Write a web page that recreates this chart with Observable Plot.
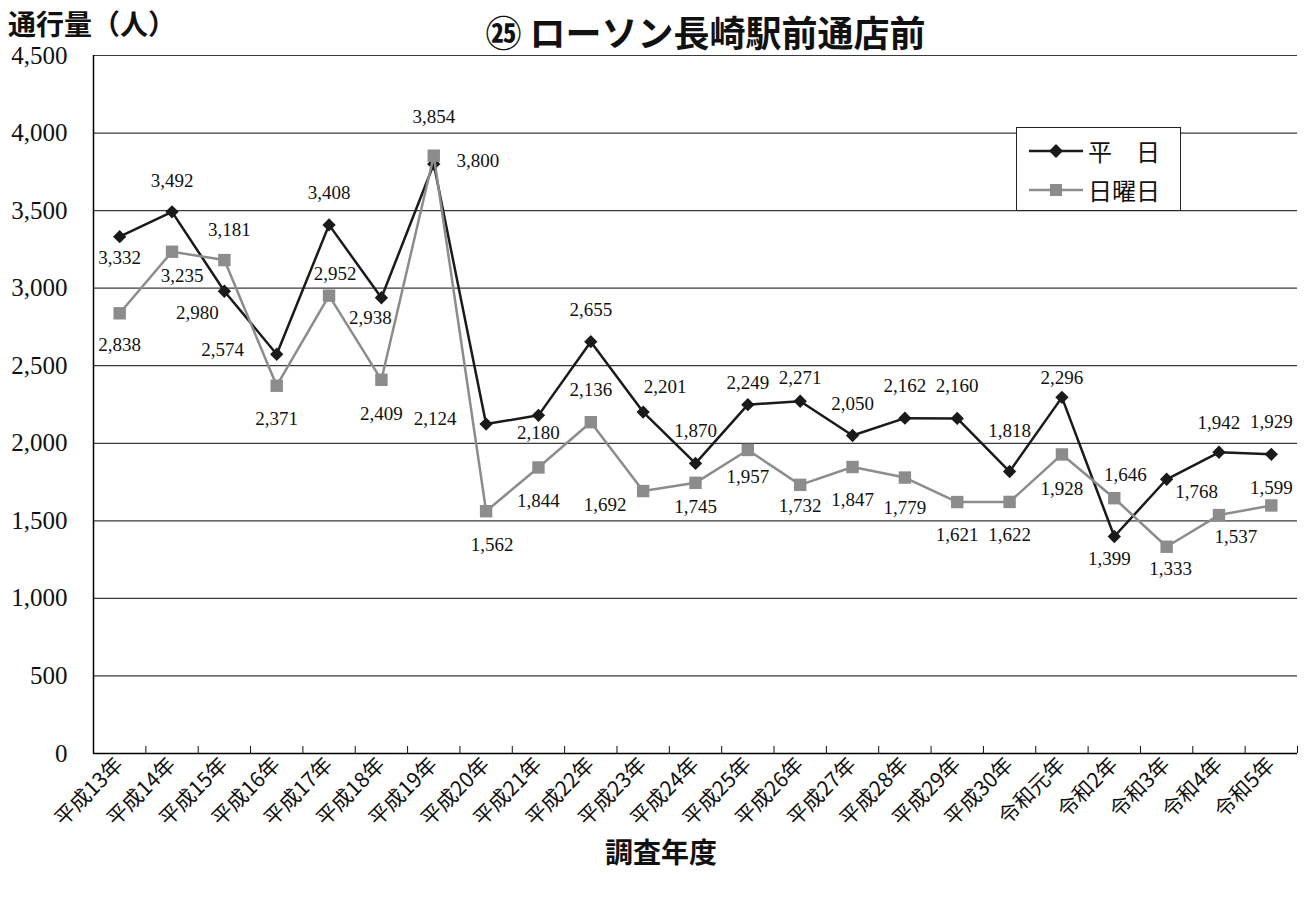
<!DOCTYPE html>
<html><head><meta charset="utf-8">
<script src="https://cdn.jsdelivr.net/npm/d3@7"></script>
<script src="https://cdn.jsdelivr.net/npm/@observablehq/plot@0.6"></script>
<style>
body{margin:0;background:#fff;}
#wrap{position:relative;width:1306px;height:897px;overflow:hidden;}
.t{position:absolute;white-space:nowrap;color:#111;font-family:"Noto Sans CJK JP",sans-serif;line-height:1.25;}
#legend{position:absolute;left:1016px;top:127px;width:163px;height:82px;border:1.5px solid #222;background:#fff;}
#legend .row{position:absolute;left:12px;display:flex;align-items:center;}
#legend span{font-family:"Noto Sans CJK JP",sans-serif;font-size:24px;color:#111;margin-left:5px;line-height:1.2;}
#wrap svg g[aria-label="y-axis tick label"] text{font-family:"Liberation Serif",serif !important;}
#wrap svg g[aria-label="x-axis tick label"] text{font-family:"Noto Sans CJK JP",sans-serif !important;}
</style></head><body><div id="wrap"></div>
<script>
const categories = ["平成13年","平成14年","平成15年","平成16年","平成17年","平成18年","平成19年","平成20年","平成21年","平成22年","平成23年","平成24年","平成25年","平成26年","平成27年","平成28年","平成29年","平成30年","令和元年","令和2年","令和3年","令和4年","令和5年"];
const weekday = [3332,3492,2980,2574,3408,2938,3800,2124,2180,2655,2201,1870,2249,2271,2050,2162,2160,1818,2296,1399,1768,1942,1929];
const sunday  = [2838,3235,3181,2371,2952,2409,3854,1562,1844,2136,1692,1745,1957,1732,1847,1779,1621,1622,1928,1646,1333,1537,1599];
const seriesNames = ["平　日","日曜日"];
const yTicks = [0,500,1000,1500,2000,2500,3000,3500,4000,4500];
const titleText = "㉕ ローソン長崎駅前通店前";
const yLabel = "通行量（人）";
const xLabel = "調査年度";
// label offsets (pixels) relative to each point
const wdLabelDx = [0,0,-27,-54,0,-11,44,-51,0,0,22,0,0,0,0,0,0,0,0,-5,30,0,0];
const wdLabelDy = [21,-31,22,-4,-32,20,-3,-5,18,-32,-25,-33,-22,-23,-32,-32,-33,-41,-19,22,13,-29,-32];
const suLabelDx = [0,10,5,0,6,0,0,6,0,0,-38,0,0,0,0,0,0,0,0,11,4,17,0];
const suLabelDy = [32,24,-30,33,-22,34,-39,34,33,-32,14,24,27,21,33,30,33,33,34,-23,22,22,-18];

const colWd = "#1a1a1a", colSu = "#8c8c8c";
const idx = d3.range(categories.length);
const wd = idx.map(i => ({i, v: weekday[i], dx: wdLabelDx[i], dy: wdLabelDy[i]}));
const su = idx.map(i => ({i, v: sunday[i], dx: suLabelDx[i], dy: suLabelDy[i]}));
const fmt = d3.format(",");
const numFont = "Liberation Serif";

const labelMarks = [...wd, ...su].map(d => Plot.text([d], {
  x: "i", y: "v", text: d => fmt(d.v), dx: d.dx, dy: d.dy,
  fontSize: 19, fontFamily: numFont, fill: "#111"
}));

const chart = Plot.plot({
  width: 1306, height: 897,
  marginLeft: 93, marginRight: 9, marginTop: 55, marginBottom: 144,
  x: {type: "linear", domain: [-0.5, categories.length - 0.5]},
  y: {domain: [0, 4500]},
  style: {fontFamily: numFont, fontSize: "19px", color: "#111", background: "white", overflow: "visible"},
  marks: [
    Plot.ruleY(yTicks.slice(1), {stroke: "#3a3a3a", strokeWidth: 1.2}),
    Plot.axisY(yTicks, {tickSize: 0, tickPadding: 26, tickFormat: fmt, fontSize: 25, fontFamily: numFont, label: null}),
    Plot.axisX(idx, {tickFormat: i => categories[i], tickRotate: -45, tickSize: 0, tickPadding: 8, fontSize: 21, fontFamily: "Noto Sans CJK JP", label: null}),
    Plot.axisX(d3.range(0.5, categories.length, 1), {tickFormat: () => "", tickSize: -7, label: null, stroke: "#111"}),
    Plot.ruleY([0], {stroke: "#000", strokeWidth: 1.5}),
    Plot.ruleX([-0.5], {stroke: "#000", strokeWidth: 1.5}),
    Plot.line(wd, {x: "i", y: "v", stroke: colWd, strokeWidth: 2.5}),
    Plot.dot(wd, {x: "i", y: "v", symbol: "diamond2", r: 6, fill: colWd, stroke: "none"}),
    Plot.line(su, {x: "i", y: "v", stroke: colSu, strokeWidth: 2.5}),
    Plot.dot(su, {x: "i", y: "v", symbol: "square", r: 7, fill: colSu, stroke: "none"}),
    ...labelMarks,
    Plot.text([titleText], {frameAnchor: "top", dx: 10, dy: -34, fontSize: 36, fontWeight: 700, fontFamily: "Noto Sans CJK JP", fill: "#111"})
  ]
});

const wrap = document.getElementById("wrap");
wrap.appendChild(chart);
chart.style.position = "absolute"; chart.style.left = "0"; chart.style.top = "0";

function addText(txt, css) {
  const el = document.createElement("div");
  el.className = "t"; el.textContent = txt;
  Object.assign(el.style, css);
  wrap.appendChild(el);
  return el;
}
addText(yLabel, {left: "8px", top: "6px", fontSize: "28px", fontWeight: "700"});
addText(xLabel, {left: "661px", top: "834px", transform: "translateX(-50%)", fontSize: "28px", fontWeight: "700"});

const legend = document.createElement("div");
legend.id = "legend";
const swatch = (color, shape) => {
  const s = d3.create("svg").attr("width", 54).attr("height", 16);
  s.append("line").attr("x1", 0).attr("x2", 54).attr("y1", 8).attr("y2", 8).attr("stroke", color).attr("stroke-width", 2.5);
  if (shape === "diamond") s.append("path").attr("d", "M27,1L34,8L27,15L20,8Z").attr("fill", color);
  else s.append("rect").attr("x", 21).attr("y", 2).attr("width", 12).attr("height", 12).attr("fill", color);
  return s.node();
};
[[seriesNames[0], colWd, "diamond", 9], [seriesNames[1], colSu, "square", 48]].forEach(([name, c, sh, top]) => {
  const row = document.createElement("div");
  row.className = "row"; row.style.top = top + "px";
  row.appendChild(swatch(c, sh));
  const sp = document.createElement("span"); sp.textContent = name;
  row.appendChild(sp);
  legend.appendChild(row);
});
wrap.appendChild(legend);
</script></body></html>
